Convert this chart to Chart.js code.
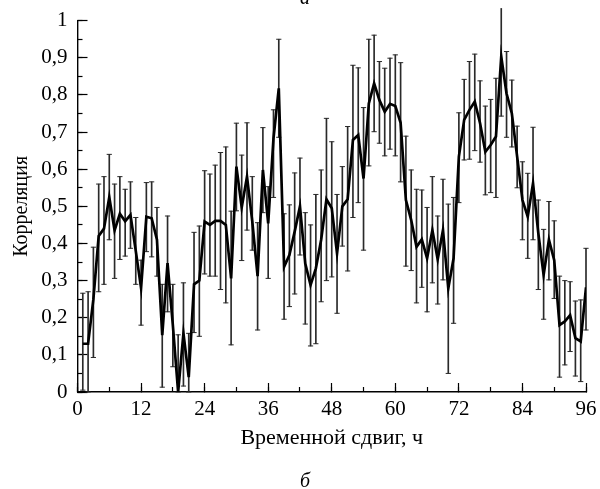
<!DOCTYPE html>
<html>
<head>
<meta charset="utf-8">
<script src="https://cdn.jsdelivr.net/npm/chart.js@4.4.1/dist/chart.umd.min.js"></script>
<style>
  html, body { margin: 0; padding: 0; background: #fff; }
  #wrap { position: relative; width: 600px; height: 489px; overflow: hidden; }
  #c { position: absolute; left: 0; top: 0; }
  .panel { position: absolute; left: 5px; width: 600px; text-align: center;
           font: italic 20px/20px "Liberation Serif", "DejaVu Serif", serif; color: #000; }
</style>
</head>
<body>
<div id="wrap">
  <canvas id="c" width="600" height="489"></canvas>
  <div class="panel" style="top:-13.5px">а</div>
  <div class="panel" style="top:469.5px">б</div>
</div>
<script>
// ---- data ----
const hours = [1,2,3,4,5,6,7,8,9,10,11,12,13,14,15,16,17,18,19,20,21,22,23,24,
  25,26,27,28,29,30,31,32,33,34,35,36,37,38,39,40,41,42,43,44,45,46,47,48,
  49,50,51,52,53,54,55,56,57,58,59,60,61,62,63,64,65,66,67,68,69,70,71,72,
  73,74,75,76,77,78,79,80,81,82,83,84,85,86,87,88,89,90,91,92,93,94,95,96];

const corr = [0.13,0.13,0.25,0.42,0.44,0.525,0.435,0.48,0.46,0.477,0.38,0.28,
  0.472,0.468,0.41,0.153,0.347,0.18,0.0,0.158,0.04,0.29,0.30,0.459,
  0.45,0.461,0.461,0.45,0.306,0.607,0.497,0.58,0.459,0.312,0.598,0.454,
  0.683,0.818,0.337,0.369,0.432,0.5,0.346,0.288,0.333,0.41,0.519,0.495,
  0.373,0.5,0.519,0.679,0.692,0.575,0.777,0.831,0.786,0.755,0.776,0.77,
  0.725,0.517,0.463,0.391,0.411,0.36,0.436,0.357,0.436,0.279,0.36,0.634,
  0.733,0.76,0.782,0.724,0.647,0.665,0.688,0.903,0.804,0.75,0.634,0.517,
  0.472,0.562,0.427,0.315,0.41,0.355,0.18,0.19,0.207,0.145,0.136,0.282];

const errLow = [0.005,0.0,0.093,0.27,0.29,0.41,0.306,0.357,0.366,0.387,0.29,0.18,
  0.378,0.364,0.312,0.013,0.216,0.068,0.0,0.016,0.0,0.16,0.15,0.318,
  0.312,0.312,0.276,0.24,0.127,0.488,0.354,0.436,0.382,0.167,0.483,0.306,
  0.524,0.686,0.196,0.23,0.264,0.369,0.183,0.124,0.13,0.243,0.3,0.31,
  0.212,0.393,0.326,0.47,0.51,0.382,0.609,0.701,0.67,0.636,0.654,0.636,
  0.566,0.339,0.327,0.24,0.282,0.216,0.294,0.237,0.302,0.05,0.185,0.51,
  0.625,0.627,0.65,0.619,0.531,0.537,0.524,0.743,0.686,0.66,0.55,0.41,
  0.36,0.41,0.276,0.196,0.302,0.252,0.04,0.073,0.109,0.043,0.028,0.167];

const errHigh = [0.266,0.27,0.39,0.56,0.58,0.64,0.56,0.58,0.546,0.566,0.47,0.355,
  0.564,0.566,0.497,0.29,0.474,0.29,0.154,0.294,0.158,0.43,0.447,0.596,
  0.587,0.611,0.645,0.66,0.487,0.724,0.638,0.725,0.58,0.456,0.712,0.553,
  0.76,0.95,0.48,0.504,0.59,0.63,0.483,0.45,0.532,0.598,0.737,0.674,
  0.532,0.607,0.715,0.88,0.873,0.766,0.95,0.961,0.89,0.872,0.899,0.908,
  0.887,0.689,0.598,0.546,0.544,0.497,0.58,0.474,0.573,0.506,0.524,0.752,
  0.842,0.89,0.91,0.838,0.77,0.788,0.845,1.033,0.917,0.84,0.716,0.62,
  0.589,0.713,0.517,0.438,0.513,0.461,0.312,0.3,0.297,0.245,0.248,0.387];

const yTickLabels = ['0','0,1','0,2','0,3','0,4','0,5','0,6','0,7','0,8','0,9','1'];
const xLabel = 'Временной сдвиг, ч';
const yLabel = 'Корреляция';

// ---- chart ----
const FONT = 'Liberation Serif';
const errColor = '#2a2a2a';

const lineData = hours.map((h, i) => ({ x: h, y: corr[i] }));
const barData  = hours.map((h, i) => ({ x: h, y: [errLow[i], errHigh[i]] }));
const lowCaps  = hours.map((h, i) => ({ x: h, y: errLow[i] }));
const highCaps = hours.map((h, i) => ({ x: h, y: errHigh[i] }));

new Chart(document.getElementById('c'), {
  type: 'line',
  data: {
    datasets: [
      { type: 'line', data: lineData, borderColor: '#000', borderWidth: 2.7,
        pointRadius: 0, tension: 0, fill: false, order: 0 },
      { type: 'bar', data: barData, backgroundColor: errColor, borderWidth: 0,
        barThickness: 1, clip: false, order: 2 },
      { type: 'line', data: lowCaps, showLine: false, pointStyle: 'line',
        pointRadius: 2.6, pointBorderWidth: 1, pointBorderColor: errColor, clip: false, order: 1 },
      { type: 'line', data: highCaps, showLine: false, pointStyle: 'line',
        pointRadius: (ctx) => (ctx.raw && ctx.raw.y > 1 ? 0 : 2.6),
        pointBorderWidth: 1, pointBorderColor: errColor, clip: false, order: 1 }
    ]
  },
  options: {
    responsive: false,
    animation: false,
    devicePixelRatio: 1,
    layout: { padding: { left: 0, right: 14, top: 20.7, bottom: 0 } },
    plugins: { legend: { display: false }, tooltip: { enabled: false } },
    scales: {
      x: {
        type: 'linear', position: 'bottom', min: 0, max: 96, offset: false, weight: 0,
        ticks: { stepSize: 12, autoSkip: false, maxRotation: 0, padding: 14,
                 color: '#000', font: { family: FONT, size: 21 } },
        grid: { drawOnChartArea: false, drawTicks: true, tickLength: -9,
                tickColor: '#000', tickWidth: 1.2, offset: false },
        border: { display: true, color: '#000', width: 1.4 },
        title: { display: true, text: xLabel, color: '#000',
                 font: { family: FONT, size: 22 }, padding: { top: 0, bottom: 37.9 } },
        afterFit(s) { s.height = 97; s.paddingLeft = 0; s.paddingRight = 0; }
      },
      xMinor: {
        type: 'linear', position: 'bottom', min: 0, max: 96, offset: false, weight: -1,
        ticks: { stepSize: 6, display: false, autoSkip: false },
        grid: { drawOnChartArea: false, drawTicks: true, tickLength: -5,
                tickColor: '#000', tickWidth: 1.2, offset: false },
        border: { display: false },
        afterFit(s) { s.height = 0; s.paddingLeft = 0; s.paddingRight = 0; }
      },
      y: {
        type: 'linear', position: 'left', min: 0, max: 1, weight: 0,
        ticks: { stepSize: 0.1, autoSkip: false, padding: 20, color: '#000',
                 font: { family: FONT, size: 21 },
                 callback: (v) => yTickLabels[Math.round(v * 10)] },
        grid: { drawOnChartArea: false, drawTicks: true, tickLength: -10,
                tickColor: '#000', tickWidth: 1.2 },
        border: { display: true, color: '#000', width: 1.4 },
        title: { display: true, text: yLabel, color: '#000',
                 font: { family: FONT, size: 20 }, padding: { top: 10, bottom: 0 } },
        afterFit(s) { s.width = 77.5; s.paddingTop = 0; s.paddingBottom = 0; }
      },
      yMinor: {
        type: 'linear', position: 'left', min: 0, max: 1, weight: -1,
        ticks: { stepSize: 0.05, display: false, autoSkip: false },
        grid: { drawOnChartArea: false, drawTicks: true, tickLength: -5,
                tickColor: '#000', tickWidth: 1.2 },
        border: { display: false },
        afterFit(s) { s.width = 0; s.paddingTop = 0; s.paddingBottom = 0; }
      }
    }
  }
});
</script>
</body>
</html>
